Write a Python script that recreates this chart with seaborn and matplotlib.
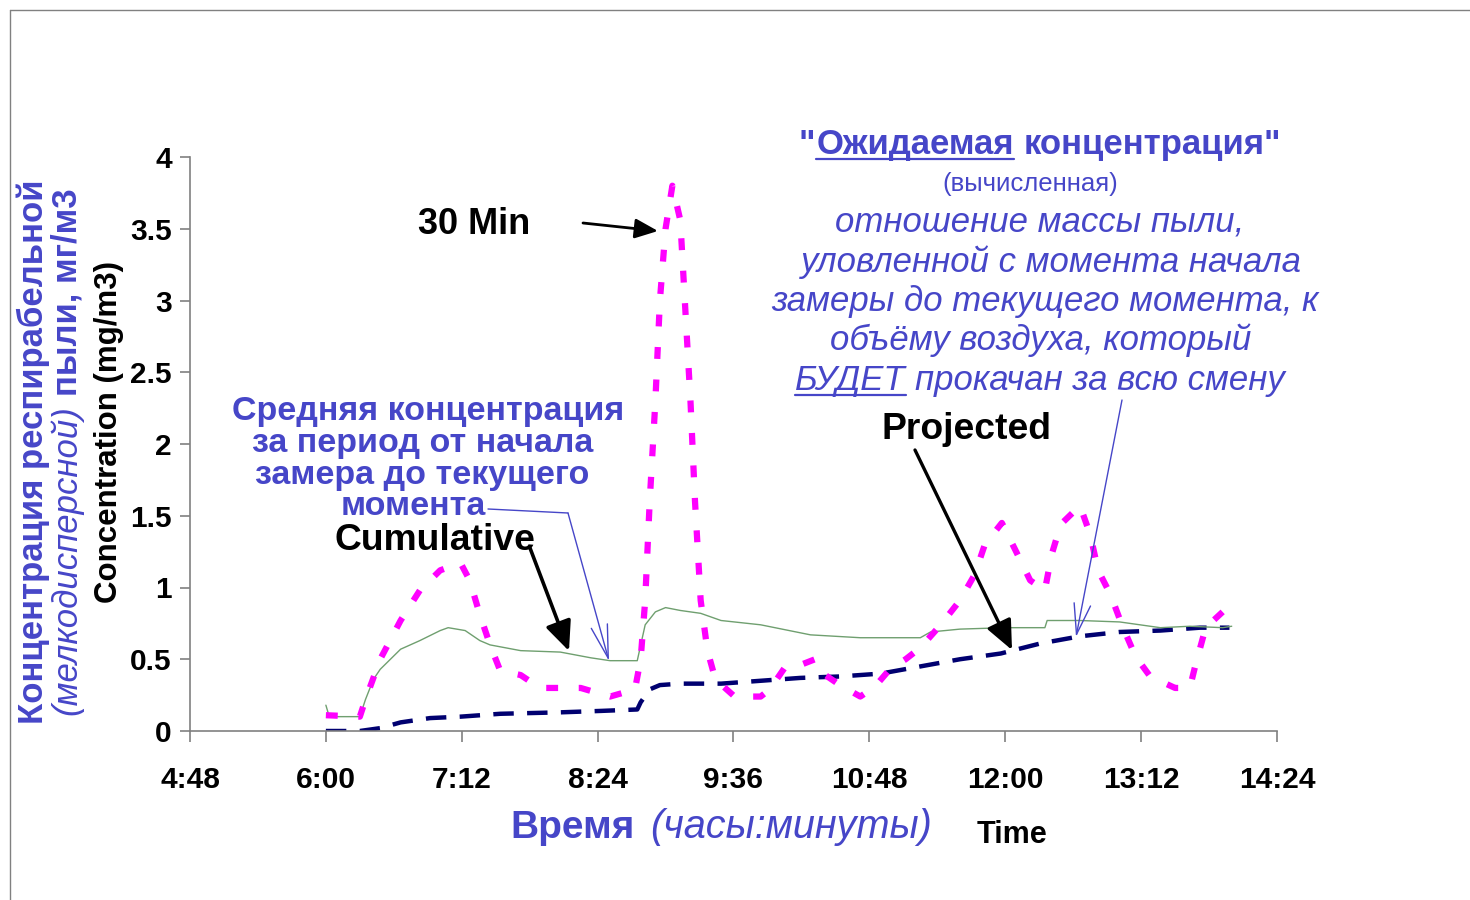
"""Respirable dust concentration over a work shift: 30 min, cumulative and projected."""

import matplotlib
matplotlib.use("Agg")
import matplotlib.pyplot as plt
from matplotlib.lines import Line2D
import seaborn as sns

W, H = 1470, 900
BLUE = "#4646c8"

# time in decimal hours, concentration in mg/m3
t_30min = [6.00, 6.30, 6.35, 6.48, 6.66, 6.83, 7.01, 7.19, 7.27, 7.36,
           7.45, 7.54, 7.72, 7.89, 8.25, 8.51, 8.73, 8.78, 8.82, 8.86,
           8.91, 8.95, 9.00, 9.06, 9.13, 9.17, 9.22, 9.26, 9.31, 9.37,
           9.44, 9.61, 9.84, 9.92, 10.06, 10.19, 10.32, 10.41, 10.54, 10.72,
           10.85, 10.98, 11.12, 11.25, 11.43, 11.60, 11.73, 11.82, 11.97, 12.09,
           12.22, 12.35, 12.41, 12.49, 12.66, 12.75, 12.82, 12.93, 13.03, 13.15,
           13.28, 13.50, 13.63, 13.68, 13.77, 13.92]
c_30min = [0.11, 0.10, 0.22, 0.50, 0.77, 0.98, 1.12, 1.17, 1.05, 0.81,
           0.60, 0.42, 0.39, 0.30, 0.30, 0.24, 0.29, 0.50, 0.91, 1.60,
           2.30, 3.00, 3.50, 3.80, 3.56, 3.00, 2.30, 1.60, 0.91, 0.56,
           0.36, 0.24, 0.24, 0.29, 0.45, 0.46, 0.50, 0.39, 0.32, 0.24,
           0.31, 0.43, 0.50, 0.58, 0.74, 0.91, 1.09, 1.30, 1.45, 1.26,
           1.05, 0.98, 1.23, 1.44, 1.57, 1.37, 1.12, 0.95, 0.74, 0.52,
           0.38, 0.30, 0.30, 0.46, 0.72, 0.83]

t_cum = [6.00, 6.03, 6.30, 6.35, 6.42, 6.48, 6.57, 6.66, 6.83, 7.01,
         7.08, 7.23, 7.36, 7.45, 7.72, 8.07, 8.34, 8.51, 8.75, 8.82,
         8.91, 9.00, 9.13, 9.31, 9.49, 9.84, 10.28, 10.72, 11.25, 11.34,
         11.60, 12.00, 12.35, 12.37, 12.66, 13.01, 13.37, 13.63, 13.92, 14.00]
c_cum = [0.18, 0.10, 0.10, 0.22, 0.36, 0.43, 0.50, 0.57, 0.63, 0.70,
         0.72, 0.70, 0.63, 0.60, 0.56, 0.55, 0.51, 0.49, 0.49, 0.74,
         0.83, 0.86, 0.84, 0.82, 0.77, 0.74, 0.67, 0.65, 0.65, 0.69,
         0.71, 0.72, 0.72, 0.77, 0.77, 0.76, 0.72, 0.73, 0.72, 0.73]

t_proj = [6.00, 6.30, 6.48, 6.66, 6.92, 7.19, 7.54, 8.07, 8.43, 8.75,
          8.78, 8.86, 8.95, 9.13, 9.49, 9.84, 10.19, 10.54, 10.90, 11.25,
          11.60, 11.96, 12.31, 12.66, 13.01, 13.37, 13.72, 13.98]
c_proj = [0.00, 0.00, 0.02, 0.06, 0.09, 0.10, 0.12, 0.13, 0.14, 0.15,
          0.20, 0.29, 0.32, 0.33, 0.33, 0.35, 0.37, 0.38, 0.40, 0.45,
          0.50, 0.54, 0.61, 0.66, 0.69, 0.70, 0.72, 0.72]

x_ticks = [4.8, 6.0, 7.2, 8.4, 9.6, 10.8, 12.0, 13.2, 14.4]
x_tick_labels = ["4:48", "6:00", "7:12", "8:24", "9:36", "10:48", "12:00", "13:12", "14:24"]
y_ticks = [0, 0.5, 1, 1.5, 2, 2.5, 3, 3.5, 4]
y_tick_labels = ["0", "0.5", "1", "1.5", "2", "2.5", "3", "3.5", "4"]


def fx(px):
    return px / W


def fy(py):
    return 1 - py / H


def draw_runs(fig, renderer, runs, cx, base, size, color=BLUE):
    """Place text runs side by side on one baseline, centred on cx (pixels).

    Each run is (text, style, underline, space_before).
    """
    space = size * 100 / 72 * 0.28
    items = []
    for s, style, underline, spaced in runs:
        t = fig.text(0, fy(base), s, color=color, ha="left", va="baseline",
                     fontsize=size, **style)
        w = t.get_window_extent(renderer).width
        items.append((t, w, underline, space if spaced else 1.0))
    total = sum(w + g for _, w, _, g in items) - items[0][3]
    x = cx - total / 2
    for i, (t, w, underline, g) in enumerate(items):
        if i:
            x += g
        t.set_x(fx(x))
        if underline:
            fig.add_artist(Line2D([fx(x), fx(x + w)], [fy(base + 5)] * 2,
                                  color=color, lw=1.6))
        x += w


def arrow(ax, start, end, color, lw, style):
    ax.annotate("", xy=(end[0], H - end[1]), xytext=(start[0], H - start[1]),
                xycoords="figure pixels", textcoords="figure pixels",
                arrowprops=dict(arrowstyle=style, color=color, lw=lw,
                                shrinkA=0, shrinkB=0, mutation_scale=20))


def main():
    sns.set_style("white")
    plt.rcParams["font.family"] = ["Liberation Sans", "DejaVu Sans"]

    fig = plt.figure(figsize=(W / 100, H / 100), dpi=100)
    ax = fig.add_axes([fx(190), fy(731), fx(1277 - 190), (731 - 157) / H])

    sns.lineplot(x=t_proj, y=c_proj, ax=ax, color="#000070", lw=3.2,
                 linestyle=(0, (4.6, 3.0)), estimator=None)
    sns.lineplot(x=t_cum, y=c_cum, ax=ax, color="#6f9f6f", lw=1.0,
                 estimator=None)
    sns.lineplot(x=t_30min, y=c_30min, ax=ax, color="#ff00ff", lw=4.5,
                 linestyle=(0, (1.9, 3.3)), estimator=None)

    ax.set_xlim(4.8, 14.4)
    ax.set_ylim(0, 4)
    ax.set_xticks(x_ticks)
    ax.set_xticklabels(x_tick_labels, fontsize=21.5, fontweight="bold")
    ax.set_yticks(y_ticks)
    ax.set_yticklabels(y_tick_labels, fontsize=21.5, fontweight="bold")
    ax.tick_params(axis="x", direction="out", length=8, width=1.2,
                   color="#808080", pad=17, bottom=True, labelcolor="black")
    ax.tick_params(axis="y", direction="out", length=7, width=1.2,
                   color="#808080", pad=6, left=True, labelcolor="black")
    sns.despine(ax=ax)
    for side in ("left", "bottom"):
        ax.spines[side].set_color("#808080")
        ax.spines[side].set_linewidth(1.2)
    ax.set_xlabel("")
    ax.set_ylabel("")

    # page frame
    fig.add_artist(Line2D([fx(10), 1], [fy(10)] * 2, color="#808080", lw=1))
    fig.add_artist(Line2D([fx(10)] * 2, [0, fy(10)], color="#808080", lw=1))

    renderer = fig.canvas.get_renderer()

    # y axis titles (rotated)
    fig.text(fx(43), fy(452), "Концентрация респирабельной", color=BLUE,
             fontsize=25, fontweight="bold", rotation=90,
             rotation_mode="anchor", ha="center", va="baseline")
    t1 = fig.text(fx(76), fy(715), "(мелкодисперсной)", color=BLUE,
                  fontsize=25, fontstyle="italic", rotation=90,
                  rotation_mode="anchor", ha="left", va="baseline")
    ext = t1.get_window_extent(renderer)
    fig.text(fx(76), (ext.y1 + 9) / H, "пыли, мг/м3", color=BLUE,
             fontsize=25, fontweight="bold", rotation=90,
             rotation_mode="anchor", ha="left", va="baseline")
    fig.text(fx(117), fy(432), "Concentration (mg/m3)", color="black",
             fontsize=22.5, fontweight="bold", rotation=90,
             rotation_mode="anchor", ha="center", va="baseline")

    # x axis titles
    fig.text(fx(510), fy(838), "Время", color=BLUE, fontsize=28,
             fontweight="bold", va="baseline")
    fig.text(fx(650), fy(838), "(часы:минуты)", color=BLUE, fontsize=28.5,
             fontstyle="italic", va="baseline")
    fig.text(fx(977), fy(843), "Time", color="black", fontsize=22,
             fontweight="bold", va="baseline")

    # series labels
    fig.text(fx(418), fy(234), "30 Min", color="black", fontsize=26,
             fontweight="bold", va="baseline")
    fig.text(fx(335), fy(550), "Cumulative", color="black", fontsize=26.8,
             fontweight="bold", va="baseline")
    fig.text(fx(882), fy(439), "Projected", color="black", fontsize=26.8,
             fontweight="bold", va="baseline")

    arrow(ax, (583, 223), (658, 231), "black", 2.0,
          "-|>,head_length=0.7,head_width=0.3")
    arrow(ax, (530, 548), (569, 651), "black", 2.6,
          "-|>,head_length=0.9,head_width=0.4")
    arrow(ax, (915, 450), (1012, 650), "black", 2.4,
          "-|>,head_length=0.9,head_width=0.4")

    # cumulative explanation (left block)
    bold = {"fontweight": "bold"}
    left_lines = [("Средняя концентрация", 428, 420),
                  ("за период от начала", 423, 452),
                  ("замера до текущего", 422, 484),
                  ("момента", 413, 515)]
    for s, cx, base in left_lines:
        draw_runs(fig, renderer, [(s, bold, False, False)], cx, base, 24.5)
    fig.add_artist(Line2D([fx(488), fx(568)], [fy(509), fy(513)],
                          color=BLUE, lw=1.0))
    arrow(ax, (568, 513), (609, 661), BLUE, 1.0,
          "->,head_length=1.2,head_width=0.3")

    # projected explanation (right block)
    draw_runs(fig, renderer, [('"', bold, False, False),
                              ("Ожидаемая", bold, True, False),
                              ('концентрация"', bold, False, True)],
              1040, 154, 25)
    fig.text(fx(1030), fy(191), "(вычисленная)", color=BLUE, fontsize=18.5,
             ha="center", va="baseline")
    italic = {"fontstyle": "italic"}
    right_lines = [([("отношение массы пыли,", italic, False, False)], 1040, 232),
                   ([("уловленной с момента начала", italic, False, False)], 1051, 272),
                   ([("замеры до текущего момента, к", italic, False, False)], 1045, 311),
                   ([("объёму воздуха, который", italic, False, False)], 1041, 350),
                   ([("БУДЕТ", italic, True, False),
                     ("прокачан за всю смену", italic, False, True)], 1040, 390)]
    for runs, cx, base in right_lines:
        draw_runs(fig, renderer, runs, cx, base, 25)
    arrow(ax, (1122, 400), (1076, 637), BLUE, 1.0,
          "->,head_length=1.1,head_width=0.3")

    fig.savefig("out.png", dpi=100)


if __name__ == "__main__":
    main()
